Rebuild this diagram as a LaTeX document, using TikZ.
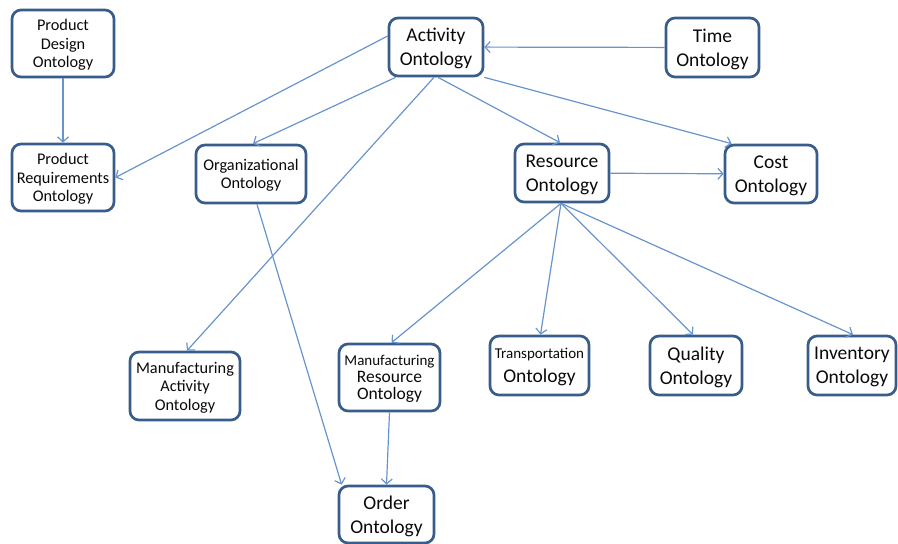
\documentclass[tikz,border=0pt]{standalone}
\usepackage{fontspec}
\setmainfont{Carlito}
\usetikzlibrary{arrows.meta}
\definecolor{boxline}{RGB}{56,93,138}
\definecolor{linkline}{RGB}{104,148,206}
\definecolor{ink}{RGB}{10,10,10}
\begin{document}
\begin{tikzpicture}[x=1pt,y=-1pt,
  box/.style={draw=boxline, line width=2.7pt, rounded corners=9pt, fill=white,
    text=ink, align=center, inner sep=0pt, text depth=-1pt, minimum width=#1},
  big/.style={font=\fontsize{19.5}{24}\selectfont},
  small/.style={font=\fontsize{16.3}{18.5}\selectfont},
  link/.style={draw=linkline, line width=1.2pt,
    -{Straight Barb[length=5pt,width=11pt,line width=1.2pt]}}]
\useasboundingbox (0,0) rectangle (898,544);

% upper row
\node[box=102pt, minimum height=67pt, small] (pdo) at (63,43.5) {Product\\Design\\Ontology};
\node[box=94pt, minimum height=58pt, big] (act) at (436,47) {Activity\\Ontology};
\node[box=93pt, minimum height=59pt, big] (time) at (712.5,47.5) {Time\\Ontology};

% middle row
\node[box=102pt, minimum height=67pt, small] (pro) at (63,177.5) {Product\\Requirements\\Ontology};
\node[box=110pt, minimum height=58pt, small] (org) at (251,174) {Organizational\\Ontology};
\node[box=94pt, minimum height=58pt, big] (res) at (562,173) {Resource\\Ontology};
\node[box=92pt, minimum height=58pt, big] (cost) at (771,174) {Cost\\Ontology};

% lower row
\node[box=110pt, minimum height=68pt, small] (mao) at (185,386) {Manufacturing\\Activity\\Ontology};
\node[box=101pt, minimum height=67pt, font=\fontsize{17.5}{17}\selectfont] (mro) at (389.5,377.5)
  {{\fontsize{15}{17}\selectfont Manufacturing}\\Resource\\Ontology};
\node[box=99pt, minimum height=59pt, big] (tro) at (539.5,365.5)
  {{\fontsize{15}{19}\selectfont Transportation}\\Ontology};
\node[box=92pt, minimum height=59pt, big] (qo) at (696,365.5) {Quality\\Ontology};
\node[box=88pt, minimum height=59pt, big] (io) at (852,365.5) {Inventory\\Ontology};
\node[box=95pt, minimum height=57pt, big] (oo) at (386.5,514.5) {Order\\Ontology};

% links
\draw[link] (pdo) -- (pro);
\draw[link] (time) -- (act);
\draw[link] ([yshift=11pt]act.west) -- (pro.east);
\draw[link] ([xshift=8pt]act.south west) -- ([xshift=2pt]org.north);
\draw[link] ([xshift=-2pt]act.south) -- ([xshift=2pt]mao.north);
\draw[link] ([xshift=2pt]act.south) -- ([xshift=-2pt]res.north);
\draw[link] (act.south east) -- ([xshift=8pt]cost.north west);
\draw[link] (res) -- (cost);
\draw[link] ([xshift=-1pt]res.south) -- ([xshift=2pt]mro.north);
\draw[link] ([xshift=-1pt]res.south) -- ([xshift=1pt]tro.north);
\draw[link] ([xshift=-1pt]res.south) -- ([xshift=-3pt]qo.north);
\draw[link] ([xshift=-1pt]res.south) -- ([xshift=1pt]io.north);
\draw[link] ([xshift=6pt]org.south) -- ([xshift=4pt]oo.north west);
\draw[link] (mro.south) -- (oo.north);
\end{tikzpicture}
\end{document}
